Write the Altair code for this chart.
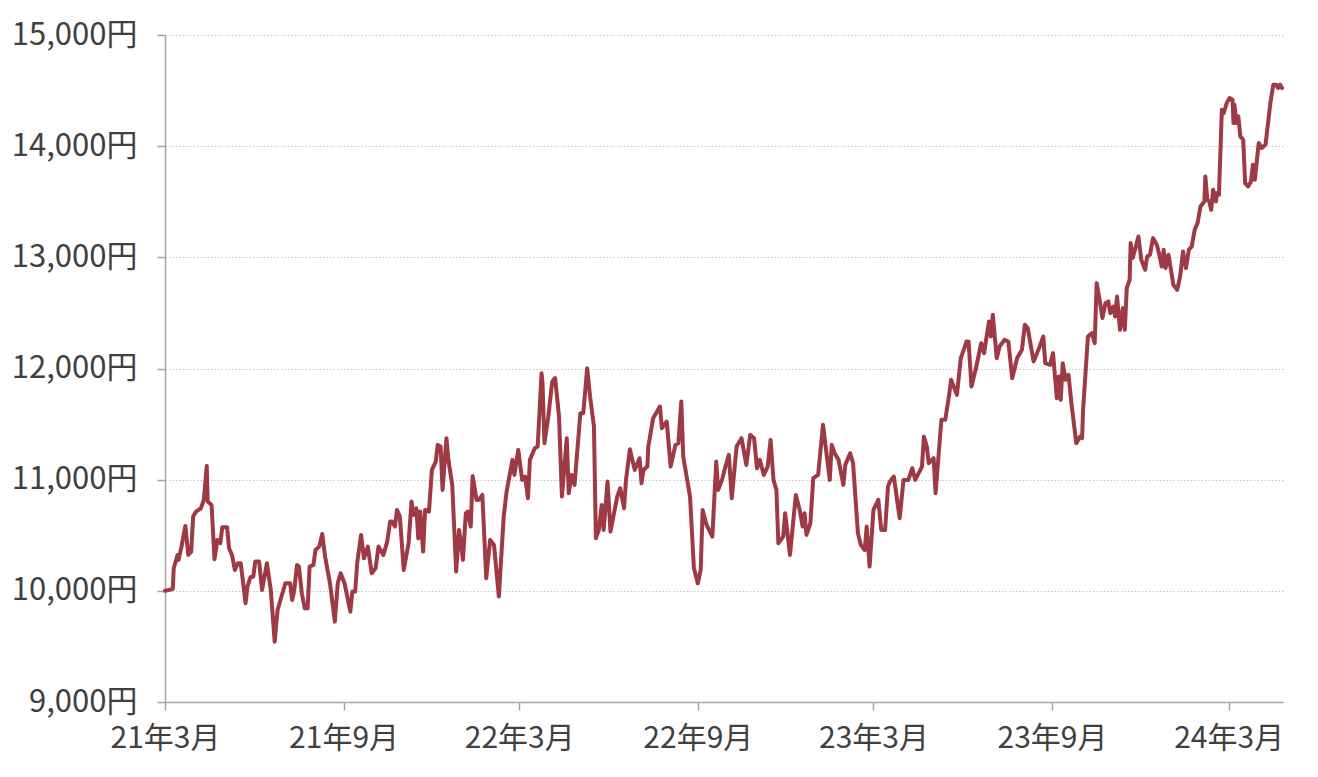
import altair as alt
import pandas as pd

START = "2021-03-01"

# --- segment 1 (21年3月 – 21年10月) : days since start, price (円)
DAYS_1 = [0, 8, 9, 13, 14, 17, 21, 24, 27, 29,
          32, 37, 40, 43, 44, 48, 51, 54, 57, 59,
          64, 66, 69, 72, 75, 78, 81, 83, 85, 88,
          91, 93, 97, 100, 105, 109, 113, 116, 121, 124,
          129, 131, 133, 136, 138, 141, 144, 147, 149, 153,
          155, 159, 162, 165, 170, 175, 178, 181, 185, 191,
          193, 196, 198, 202, 205, 209, 213, 217, 220, 225,
          229, 232]
VALS_1 = [10000, 10017, 10203, 10323, 10278, 10398, 10584, 10323, 10353, 10668,
          10713, 10743, 10818, 11124, 10803, 10773, 10284, 10458, 10428, 10572,
          10572, 10383, 10323, 10188, 10248, 10248, 10038, 9888, 10038, 10122,
          10128, 10263, 10263, 10008, 10248, 10008, 9543, 9828, 9978, 10068,
          10068, 9918, 9993, 10233, 10218, 9978, 9843, 9843, 10218, 10233,
          10368, 10398, 10512, 10308, 10068, 9723, 10068, 10158, 10068, 9813,
          9993, 9993, 10248, 10503, 10293, 10398, 10158, 10203, 10398, 10323,
          10443, 10623]

# --- segment 2
DAYS_2 = [234, 237, 239, 242, 246, 251, 254, 256, 259, 261,
          263, 266, 268, 272, 275, 279, 281, 284, 286, 290,
          292, 296, 300, 303, 304, 307, 310, 312, 315, 317,
          321, 323, 327, 331, 335, 339, 344, 349, 352, 358,
          360, 364, 368, 371, 374, 376, 381, 384, 388, 389,
          391, 395, 399, 402, 406, 409, 414, 416, 419, 422,
          428, 431, 435, 438, 442, 444, 447, 450, 452, 456,
          459]
VALS_2 = [10623, 10578, 10728, 10668, 10188, 10428, 10803, 10683, 10743, 10473,
          10713, 10353, 10728, 10713, 11088, 11163, 11313, 11298, 10908, 11373,
          11178, 10953, 10173, 10548, 10488, 10278, 10698, 10713, 10578, 11034,
          10818, 10818, 10863, 10113, 10458, 10413, 9948, 10668, 10893, 11178,
          11043, 11268, 10998, 11028, 10833, 11178, 11283, 11298, 11958, 11868,
          11328, 11568, 11883, 11913, 11568, 10848, 11373, 10878, 11043, 10953,
          11598, 11598, 12003, 11748, 11478, 10473, 10548, 10773, 10548, 10983,
          10533]

# --- segment 3
DAYS_3 = [466, 469, 473, 475, 479, 484, 489, 491, 493, 497,
          498, 503, 507, 510, 512, 517, 521, 526, 529, 532,
          534, 541, 545, 549, 552, 554, 558, 564, 568, 570,
          574, 577, 581, 584, 589, 594, 599, 603, 607, 610,
          613, 617, 621, 624, 627, 630, 632, 637, 639, 644,
          650, 654, 657, 659, 661, 665, 668, 673, 678, 685,
          687, 690]
VALS_3 = [10848, 10923, 10743, 10998, 11274, 11088, 11193, 10968, 11088, 11118,
          11298, 11553, 11613, 11658, 11463, 11523, 11118, 11313, 11328, 11703,
          11208, 10848, 10203, 10068, 10188, 10728, 10593, 10488, 11163, 10908,
          10998, 11103, 11223, 10833, 11298, 11373, 11133, 11403, 11373, 11103,
          11178, 11043, 11118, 11358, 10998, 10908, 10428, 10488, 10698, 10323,
          10863, 10728, 10578, 10698, 10503, 10608, 11013, 11043, 11493, 10998,
          11313, 11238]

# --- segment 4
DAYS_4 = [694, 699, 701, 706, 709, 714, 717, 721, 723, 726,
          730, 735, 738, 742, 745, 747, 751, 757, 761, 766,
          770, 773, 780, 782, 785, 787, 792, 794, 797, 800,
          804, 808, 810, 816, 820, 826, 828, 831, 836, 841,
          844, 849, 851, 853, 857, 860, 865, 869, 873, 878,
          883, 886, 889, 895, 900, 905, 907, 912, 915, 919,
          921, 923]
VALS_4 = [11178, 10953, 11133, 11238, 11148, 10518, 10413, 10368, 10578, 10218,
          10728, 10818, 10548, 10548, 10938, 10983, 11028, 10653, 10998, 10998,
          11103, 10998, 11118, 11388, 11298, 11148, 11193, 10878, 11208, 11538,
          11538, 11763, 11898, 11763, 12093, 12243, 12243, 11838, 12018, 12228,
          12138, 12423, 12288, 12483, 12093, 12198, 12258, 12243, 11913, 12093,
          12168, 12393, 12363, 12063, 12168, 12288, 12048, 12033, 12138, 11733,
          11928, 11718]

# --- segment 5
DAYS_5 = [925, 928, 931, 934, 939, 943, 945, 946, 951, 955,
          958, 960, 963, 966, 969, 972, 974, 977, 979, 981,
          984, 987, 989, 991, 994, 995, 997, 999, 1003, 1006,
          1010, 1012, 1015, 1018, 1022, 1025, 1027, 1029, 1031, 1034,
          1036, 1039, 1043, 1046, 1049, 1052, 1055, 1058, 1061, 1064,
          1067, 1071, 1072, 1074, 1076, 1078, 1080, 1083, 1084, 1086,
          1089, 1091, 1094, 1097, 1100, 1101, 1102, 1104, 1106, 1108,
          1111, 1113, 1116, 1119, 1121, 1123, 1127, 1130, 1134, 1139,
          1142, 1145, 1147, 1149, 1151]
VALS_5 = [12048, 11898, 11943, 11688, 11328, 11388, 11373, 11628, 12288, 12318,
          12228, 12768, 12618, 12453, 12588, 12603, 12498, 12558, 12468, 12648,
          12348, 12543, 12348, 12723, 12798, 13128, 12993, 13053, 13188, 12978,
          12888, 13008, 13023, 13173, 13113, 13008, 12918, 13068, 12903, 13023,
          12918, 12753, 12708, 12828, 13053, 12903, 13068, 13098, 13248, 13308,
          13458, 13503, 13728, 13518, 13503, 13428, 13608, 13503, 13578, 13563,
          14328, 14298, 14388, 14433, 14418, 14208, 14373, 14208, 14268, 14088,
          14058, 13668, 13638, 13683, 13833, 13698, 14028, 13983, 14013, 14388,
          14553, 14553, 14523, 14553, 14523]

Y_TICKS = [9000, 10000, 11000, 12000, 13000, 14000, 15000]
X_TICK_DATES = ["2021-03-01", "2021-09-01", "2022-03-01", "2022-09-01",
                "2023-03-01", "2023-09-01", "2024-03-01"]
X_END = "2024-04-26"

days = DAYS_1 + DAYS_2 + DAYS_3 + DAYS_4 + DAYS_5
vals = VALS_1 + VALS_2 + VALS_3 + VALS_4 + VALS_5
dates = (pd.Timestamp(START) + pd.to_timedelta(days, unit="D")).strftime("%Y-%m-%d")
df = pd.DataFrame({"date": list(dates), "price": vals})


def utc_dt(s):
    t = pd.Timestamp(s)
    return alt.DateTime(year=t.year, month=t.month, date=t.day, utc=True)


FONT = "Noto Sans CJK JP"
TEXT = "#404040"
AXIS = "#a6a6a6"

chart = alt.Chart(df).mark_line(
    color="#9e3a43", strokeWidth=4, strokeJoin="round", strokeCap="round"
).encode(
    x=alt.X(
        "date:T",
        scale=alt.Scale(type="utc", domain=[utc_dt(START), utc_dt(X_END)]),
        axis=alt.Axis(
            values=[utc_dt(d) for d in X_TICK_DATES],
            labelExpr="utcFormat(datum.value, '%y年%-m月')",
            title=None, grid=False, domainColor=AXIS, tickColor=AXIS,
            tickSize=8, labelPadding=13, labelFont=FONT, labelFontSize=30,
            labelColor=TEXT, labelOverlap=False, labelFlush=False,
            domainWidth=1.5, tickWidth=1.5,
        ),
    ),
    y=alt.Y(
        "price:Q",
        scale=alt.Scale(domain=[9000, 15000], nice=False, zero=False),
        axis=alt.Axis(
            values=Y_TICKS,
            labelExpr="format(datum.value, ',') + '円'",
            title=None, grid=True, gridColor="#c4c4c4", gridDash=[1.5, 2],
            gridWidth=1, domainColor=AXIS, tickColor=AXIS, tickSize=8,
            labelPadding=20, labelFont=FONT, labelFontSize=31,
            labelColor=TEXT, domainWidth=1.5, tickWidth=1.5,
        ),
    ),
).properties(
    width=1118,
    height=667,
    autosize=alt.AutoSizeParams(type="none"),
    padding={"left": 157, "top": 27, "right": 20, "bottom": 60},
    background="white",
).configure_view(strokeWidth=0, stroke="transparent")

chart.save("out.html", embed_options={"renderer": "svg", "actions": False})
